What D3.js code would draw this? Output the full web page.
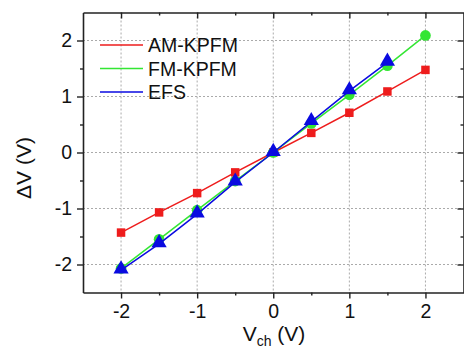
<!DOCTYPE html>
<html><head><meta charset="utf-8">
<script src="https://cdn.jsdelivr.net/npm/d3@7"></script>
<style>body{margin:0;background:#fff}svg{display:block}text{font-family:Arial,"Liberation Sans",sans-serif;fill:#111}</style>
</head><body>
<svg id="c" width="464" height="352"></svg>
<script>
const xVals = [-2, -1.5, -1, -0.5, 0, 0.5, 1, 1.5, 2];
const amKpfm = [-1.43, -1.07, -0.725, -0.355, 0, 0.35, 0.71, 1.09, 1.475];
const fmKpfm = [-2.07, -1.55, -1.03, -0.51, 0, 0.52, 1.03, 1.55, 2.09];
const efsX = [-2, -1.5, -1, -0.5, 0, 0.5, 1, 1.5];
const efs = [-2.1, -1.63, -1.1, -0.53, 0, 0.55, 1.1, 1.61];
const tickVals = [-2, -1, 0, 1, 2];
const minorVals = [-1.5, -0.5, 0.5, 1.5];
const seriesNames = ["AM-KPFM", "FM-KPFM", "EFS"];
const colors = ["#ee1c1c", "#33e633", "#0a0ae0"];

const svg = d3.select("#c");
const L = 83, R = 463.5, T = 12.5, B = 292.5;
const x = d3.scaleLinear().domain([-2.5, 2.5]).range([L, R]);
const y = d3.scaleLinear().domain([-2.5, 2.5]).range([B, T]);

// grid
const g = svg.append("g");
g.selectAll(".gx").data(tickVals).enter().append("line")
  .attr("x1", d => x(d)).attr("x2", d => x(d)).attr("y1", T).attr("y2", B)
  .attr("stroke", "#aaa").attr("stroke-width", 1).attr("stroke-dasharray", "2,2");
g.selectAll(".gy").data(tickVals).enter().append("line")
  .attr("y1", d => y(d)).attr("y2", d => y(d)).attr("x1", L).attr("x2", R)
  .attr("stroke", "#aaa").attr("stroke-width", 1).attr("stroke-dasharray", "2,2");

// axes
const fmt = d => d < 0 ? "-" + Math.abs(d) : String(d);
function styleAxis(sel) {
  sel.select(".domain").attr("stroke", "#222").attr("stroke-width", 1.6);
  sel.selectAll(".tick line").attr("stroke", "#222").attr("stroke-width", 1.4);
  sel.selectAll("text").style("font-size", "19.5px").attr("fill", "#111");
}
function minor(sel) { sel.select(".domain").remove(); sel.selectAll("line").attr("stroke", "#222").attr("stroke-width", 1.4); }
const xb = svg.append("g").attr("transform", `translate(0,${B})`)
  .call(d3.axisBottom(x).tickValues(tickVals).tickFormat(fmt).tickSize(6).tickSizeOuter(0).tickPadding(6));
styleAxis(xb);
svg.append("g").attr("transform", `translate(0,${B})`)
  .call(d3.axisBottom(x).tickValues(minorVals).tickFormat("").tickSize(3).tickSizeOuter(0)).call(minor);
const yl = svg.append("g").attr("transform", `translate(${L},0)`)
  .call(d3.axisLeft(y).tickValues(tickVals).tickFormat(fmt).tickSize(6).tickSizeOuter(0).tickPadding(5));
styleAxis(yl);
svg.append("g").attr("transform", `translate(${L},0)`)
  .call(d3.axisLeft(y).tickValues(minorVals).tickFormat("").tickSize(3).tickSizeOuter(0)).call(minor);
// top & right mirrored (inward)
const xt = svg.append("g").attr("transform", `translate(0,${T})`)
  .call(d3.axisBottom(x).tickValues(tickVals).tickFormat("").tickSize(6).tickSizeOuter(0));
styleAxis(xt);
svg.append("g").attr("transform", `translate(0,${T})`)
  .call(d3.axisBottom(x).tickValues(minorVals).tickFormat("").tickSize(3).tickSizeOuter(0)).call(minor);
const yr = svg.append("g").attr("transform", `translate(${R},0)`)
  .call(d3.axisLeft(y).tickValues(tickVals).tickFormat("").tickSize(6).tickSizeOuter(0));
styleAxis(yr);
svg.append("g").attr("transform", `translate(${R},0)`)
  .call(d3.axisLeft(y).tickValues(minorVals).tickFormat("").tickSize(3).tickSizeOuter(0)).call(minor);

// series
const series = [
  {xs: xVals, ys: amKpfm, c: colors[0], m: "square"},
  {xs: xVals, ys: fmKpfm, c: colors[1], m: "circle"},
  {xs: efsX, ys: efs, c: colors[2], m: "triangle"}
];
const line = d3.line().x(d => x(d[0])).y(d => y(d[1]));
series.forEach(s => {
  const pts = s.xs.map((v, i) => [v, s.ys[i]]);
  svg.append("path").datum(pts).attr("d", line).attr("fill", "none")
    .attr("stroke", s.c).attr("stroke-width", 1.5);
  const sym = s.m === "square" ? d3.symbolSquare : s.m === "circle" ? d3.symbolCircle : d3.symbolTriangle;
  const size = s.m === "square" ? 72 : s.m === "circle" ? 90 : 100;
  svg.selectAll(null).data(pts).enter().append("path")
    .attr("d", d3.symbol().type(sym).size(size))
    .attr("transform", d => `translate(${x(d[0])},${y(d[1]) + (s.m === "triangle" ? -1 : 0)})`)
    .attr("fill", s.c);
});

// legend
seriesNames.forEach((n, i) => {
  const ly = 45 + i * 23.5;
  svg.append("line").attr("x1", 100).attr("x2", 143).attr("y1", ly).attr("y2", ly)
    .attr("stroke", colors[i]).attr("stroke-width", 1.5);
  svg.append("text").attr("x", 148).attr("y", ly + 7).style("font-size", "19.5px").text(n);
});

// axis titles
const xt2 = svg.append("text").attr("x", 274).attr("y", 341).attr("text-anchor", "middle").style("font-size", "21px");
xt2.append("tspan").text("V");
xt2.append("tspan").attr("dy", 5).style("font-size", "14px").text("ch");
xt2.append("tspan").attr("dy", -5).text(" (V)");
svg.append("text").attr("transform", "translate(31,168) rotate(-90)").attr("text-anchor", "middle")
  .style("font-size", "21px").text("ΔV (V)");
</script>
</body></html>
